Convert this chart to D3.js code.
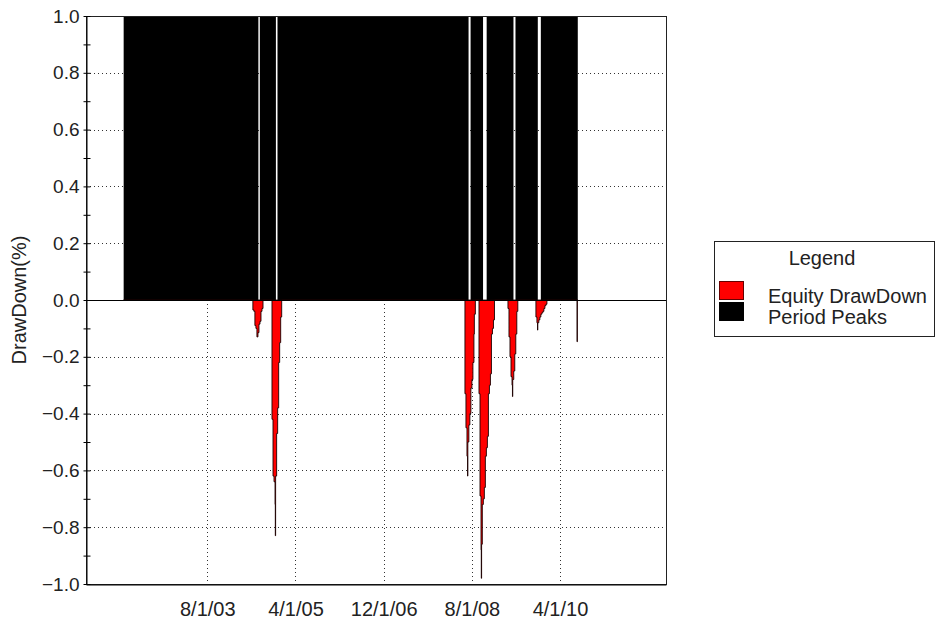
<!DOCTYPE html>
<html><head><meta charset="utf-8">
<script src="https://cdn.jsdelivr.net/npm/d3@7"></script>
<style>body{margin:0;background:#fff}svg{display:block}</style>
</head><body><svg id="c" width="937" height="631"></svg>
<script>
// ---------- data ----------
const xDomain = ["2001-04-16", "2012-04-02"];
const xTickDates = ["2003-08-01", "2005-04-01", "2006-12-01", "2008-08-01", "2010-04-01"];
const yTicks = [-1.0, -0.8, -0.6, -0.4, -0.2, 0.0, 0.2, 0.4, 0.6, 0.8, 1.0];
const yMinorTicks = [-0.9, -0.7, -0.5, -0.3, -0.1, 0.1, 0.3, 0.5, 0.7, 0.9];
const seriesNames = ["Equity DrawDown", "Period Peaks"];
const seriesColors = ["#ff0000", "#000000"];

// Equity DrawDown (weekly, stepped)
const ddDates = [
  "2002-01-01",
  "2004-06-11","2004-06-18","2004-06-25","2004-07-02","2004-07-09","2004-07-16","2004-07-23","2004-07-30","2004-08-06","2004-08-13","2004-08-20",
  "2004-10-21","2004-10-28","2004-11-04","2004-11-11","2004-11-13","2004-11-15","2004-11-22","2004-11-29","2004-12-06","2004-12-13","2004-12-20","2004-12-27",
  "2008-06-14","2008-06-21","2008-06-28","2008-07-02","2008-07-04","2008-07-11","2008-07-18","2008-07-25","2008-08-01","2008-08-08","2008-08-15","2008-08-18","2008-08-25",
  "2008-09-19","2008-09-26","2008-10-03","2008-10-05","2008-10-07","2008-10-12","2008-10-19","2008-10-26","2008-11-02","2008-11-09","2008-11-16","2008-11-23","2008-11-30","2008-12-07","2008-12-14","2008-12-21","2008-12-28","2009-01-04",
  "2009-04-07","2009-04-14","2009-04-21","2009-04-28","2009-05-05","2009-05-08","2009-05-10","2009-05-17","2009-05-24","2009-05-31","2009-06-07","2009-06-14",
  "2009-10-17","2009-10-24","2009-10-28","2009-10-30","2009-11-06","2009-11-13","2009-11-20","2009-11-27","2009-12-04","2009-12-11","2009-12-18","2009-12-25","2010-01-01",
  "2010-07-28","2010-07-30","2010-08-02"
];
const ddValues = [
  0,
  -0.035,-0.04,-0.09,-0.10,-0.13,-0.115,-0.085,-0.075,-0.04,-0.03,0,
  -0.42,-0.62,-0.64,-0.72,-0.83,-0.62,-0.47,-0.38,-0.22,-0.15,-0.06,0,
  -0.33,-0.45,-0.55,-0.62,-0.50,-0.44,-0.40,-0.31,-0.28,-0.22,-0.12,-0.05,0,
  -0.33,-0.69,-0.88,-0.98,-0.86,-0.72,-0.70,-0.66,-0.55,-0.52,-0.48,-0.33,-0.30,-0.26,-0.12,-0.10,-0.07,0,
  -0.03,-0.13,-0.20,-0.27,-0.30,-0.34,-0.28,-0.25,-0.19,-0.12,-0.04,0,
  -0.06,-0.08,-0.106,-0.08,-0.07,-0.06,-0.05,-0.045,-0.04,-0.03,-0.02,-0.015,0,
  -0.147,0,0
];

// Period Peaks (stepped)
const peakDates = [
  "2002-01-01","2004-07-19","2004-07-29","2004-11-17","2004-11-28",
  "2008-07-09","2008-07-23","2008-10-17","2008-11-11","2009-05-15","2009-05-29",
  "2009-10-30","2009-11-20","2010-08-02"
];
const peakValues = [1,0,1,0,1, 0,1,0,1,0,1, 0,1,1];

// ---------- chart ----------
const parse = d3.utcParse("%Y-%m-%d");
const svg = d3.select("#c");
const L = 86, R = 666, T = 16, B = 584;
const x = d3.scaleUtc().domain(xDomain.map(parse)).range([L, R]);
const y = d3.scaleLinear().domain([-1, 1]).range([B, T]);
const font = "Arial, 'Liberation Sans', sans-serif";
const fsY = 19, fs = 20;
const txt = "#222";

svg.append("rect").attr("width", 937).attr("height", 631).attr("fill", "#fff");

// gridlines
const grid = svg.append("g").attr("stroke", "#333").attr("stroke-dasharray", "1,3").attr("stroke-width", 1);
yTicks.filter(v => Math.abs(v) > 1e-9 && Math.abs(v) < 1).forEach(v => {
  grid.append("line").attr("x1", L).attr("x2", R).attr("y1", Math.round(y(v)) + 0.5).attr("y2", Math.round(y(v)) + 0.5);
});
xTickDates.forEach(d => {
  const px = Math.round(x(parse(d))) + 0.5;
  grid.append("line").attr("x1", px).attr("x2", px).attr("y1", T).attr("y2", B);
});

// Period Peaks area
const peaks = peakDates.map((d, i) => ({date: parse(d), v: peakValues[i]}));
svg.append("path").datum(peaks)
  .attr("d", d3.area().x(d => x(d.date)).y0(y(0)).y1(d => y(d.v)).curve(d3.curveStepAfter))
  .attr("fill", seriesColors[1]);

// Equity DrawDown area
const dd = ddDates.map((d, i) => ({date: parse(d), v: ddValues[i]}));
svg.append("path").datum(dd)
  .attr("d", d3.area().x(d => x(d.date)).y0(y(0)).y1(d => y(d.v)).curve(d3.curveStepAfter))
  .attr("fill", seriesColors[0]).attr("stroke", "#1a0000").attr("stroke-width", 0.9).attr("stroke-linejoin", "miter");

// zero line
svg.append("line").attr("x1", L).attr("x2", R).attr("y1", Math.round(y(0)) + 0.5).attr("y2", Math.round(y(0)) + 0.5).attr("stroke", "#000");

// frame
svg.append("rect").attr("x", L + 0.5).attr("y", T + 0.5).attr("width", R - L).attr("height", B - T)
  .attr("fill", "none").attr("stroke", "#222");

// y axis
const yAxis = d3.axisLeft(y).tickValues(yTicks).tickFormat(d3.format(".1f")).tickSize(3).tickSizeOuter(0);
const gy = svg.append("g").attr("transform", `translate(${L + 0.5},0)`).call(yAxis);
gy.select(".domain").attr("stroke", "#000");
gy.selectAll(".tick line").attr("x2", 4).attr("x1", -3).attr("stroke", "#000");
gy.selectAll(".tick text").attr("x", -7).attr("font-family", font).attr("font-size", fsY).attr("fill", txt);
const gym = svg.append("g").attr("transform", `translate(${L + 0.5},0)`).call(d3.axisLeft(y).tickValues(yMinorTicks).tickFormat(""));
gym.select(".domain").remove();
gym.selectAll(".tick line").attr("x1", -3).attr("x2", 4).attr("stroke", "#000");

// x axis
const xAxis = d3.axisBottom(x).tickValues(xTickDates.map(parse)).tickFormat(d3.utcFormat("%-m/%-d/%y")).tickSize(0).tickSizeOuter(0);
const gx = svg.append("g").attr("transform", `translate(0,${B + 0.5})`).call(xAxis);
gx.select(".domain").attr("stroke", "#000");
gx.selectAll(".tick text").attr("dy", 0).attr("y", 31.5).attr("font-family", font).attr("font-size", fs).attr("fill", txt);

// y title
svg.append("text").attr("transform", `translate(26,${y(0)}) rotate(-90)`)
  .attr("text-anchor", "middle").attr("font-family", font).attr("font-size", fs).attr("fill", txt)
  .text("DrawDown(%)");

// legend
const lg = svg.append("g");
lg.append("rect").attr("x", 714.5).attr("y", 241.5).attr("width", 220).attr("height", 95)
  .attr("fill", "#fff").attr("stroke", "#222");
lg.append("text").attr("x", 822).attr("y", 265).attr("text-anchor", "middle")
  .attr("font-family", font).attr("font-size", fs).attr("fill", txt).text("Legend");
seriesNames.forEach((n, i) => {
  lg.append("rect").attr("x", 719.5).attr("y", 281.5 + i * 21).attr("width", 24).attr("height", 18)
    .attr("fill", seriesColors[i]).attr("stroke", i === 0 ? "#600" : "#000");
  lg.append("text").attr("x", 768).attr("y", 303 + i * 21)
    .attr("font-family", font).attr("font-size", fs).attr("fill", txt).text(n);
});
</script>
</body></html>
